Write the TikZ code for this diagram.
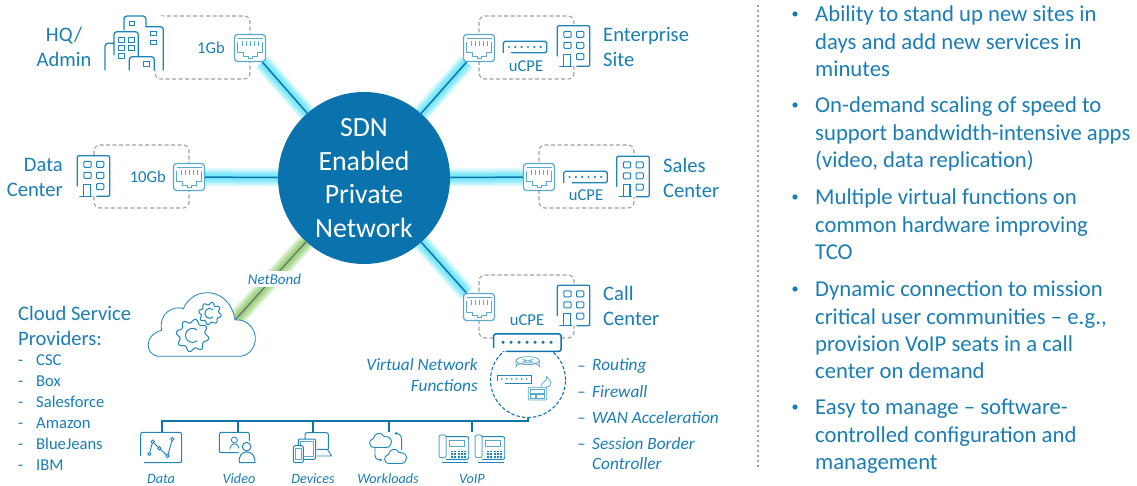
\documentclass[tikz,border=0pt]{standalone}
\usepackage{fontspec}
\setmainfont{Carlito}
\usetikzlibrary{backgrounds,arrows.meta}
\definecolor{tb}{HTML}{1A7DB4}
\definecolor{hubc}{HTML}{0A73AE}
\definecolor{lnc}{HTML}{0F74AC}
\definecolor{icn}{HTML}{1F84BA}
\definecolor{lic}{HTML}{5AA9D0}
\definecolor{gl}{HTML}{5FE3F7}
\definecolor{gr}{HTML}{8CCB6A}
\definecolor{dsh}{HTML}{A0A0A0}
\newcommand{\glowlink}[3]{%
  \foreach \w/\o in {18/.18,15/.22,12/.28,9/.35,6/.45}{\draw[#3,line width=\w pt,opacity=\o] (#1) -- (#2);}}
\newcommand{\gearshape}[3]{% cx, cy, radius
  \draw[icn,line width=1pt] plot[domain=0:360,samples=121,smooth]
   ({#1+(#3+#3*.13*sin(8*\x))*cos(\x)},{#2+(#3+#3*.13*sin(8*\x))*sin(\x)});}
\tikzset{
  lab/.style={text=tb,font=\fontsize{20.6}{25}\selectfont,align=left,inner sep=0pt},
  ilab/.style={text=tb,font=\fontsize{14.2}{18}\itshape\selectfont,inner sep=0pt},
  vlab/.style={text=tb,font=\fontsize{17.3}{21}\itshape\selectfont,inner sep=0pt},
  small/.style={text=tb,font=\fontsize{16.6}{16.6}\selectfont,inner sep=0pt},
  bul/.style={text=tb,font=\fontsize{22.7}{27.3}\selectfont,align=left,inner sep=0pt,anchor=north west},
  site/.style={draw=dsh,dashed,dash pattern=on 4pt off 2.5pt,line width=1.1pt,rounded corners=6pt},
  jack/.style={draw=lic,fill=white,line width=1.2pt,rounded corners=3pt,minimum width=31pt,minimum height=27pt,inner sep=0pt},
  ic/.style={draw=icn,line width=1.3pt,line cap=round},
  thin ic/.style={draw=lic,line width=.8pt},
  link/.style={draw=lnc,line width=1.5pt},
  tree/.style={draw=lnc,line width=1.3pt},
  jackin/.pic={\begin{scope}[scale=1/3]
    \draw[lic,line width=.9pt] (-37,-28)--(38,-28);
    \draw[lic,line width=1pt] (-37,-18)--(-37,15)--(-21,15)--(-21,25)--(-4,25)--(-4,32)--(6,32)--(6,25)--(21,25)--(21,15)--(38,15)--(38,-18);
    \foreach \x in {-24,-12,0,12,24}{\draw[lic,line width=.9pt] (\x,-20)--(\x,-7);}
  \end{scope}},
  build/.pic={\begin{scope}[scale=1/3]
    \fill[white] (-49,-61) rectangle (49,61);
    \draw[ic,rounded corners=2pt] (-49,30)--(-49,-61)--(49,-61)--(49,61)--(10,61);
    \draw[ic] (-41,61)--(-5,61);
    \draw[ic] (-29,61)--(-29,25)--(-9,25)--(-9,61);
    \foreach \x in {-29,9}{\foreach \y in {-44,-11}{\draw[ic,line width=1pt,rounded corners=1pt] (\x,\y) rectangle ++(22,18);}}
    \draw[ic,line width=1pt,rounded corners=1pt] (9,23) rectangle ++(22,18);
  \end{scope}},
  dev/.pic={\begin{scope}[scale=1/3]
    \draw[ic,rounded corners=1.5pt] (-65,17)--(-65,-17)--(65,-17)--(65,17)--(-40,17);
    \foreach \x in {-48,-29,-10,9,28,47}{\fill[icn] (\x,0) circle (3.6);}
  \end{scope}},
  scloud/.pic={\begin{scope}
    \draw[pic actions] (-6,9)..controls (-13,9) and (-13,1)..(-7.5,0)
      ..controls (-7,-6) and (1,-7)..(3,-2)
      ..controls (9,-3) and (13,3)..(9,7)
      ..controls (8,9) and (6,9)..(4,9)--cycle;
  \end{scope}},
  phone/.pic={\begin{scope}[scale=1/3]
    \draw[lic,line width=1pt,rounded corners=2pt] (-23,-40) rectangle (-2,28);
    \draw[icn,line width=.9pt,rounded corners=2pt] (-2,-35)--(66,-35)--(66,33)--(-2,33);
    \draw[lic,line width=1pt] (8,-22) rectangle (53,-5);
    \draw[icn,line width=.8pt] (-15,41)--(63,41);
    \foreach \y in {8,16,24}{\foreach \x in {14,24,34,44,52}{\fill[icn] (\x-1,\y-1) rectangle ++(6,5);}}
  \end{scope}}
}
\begin{document}
\begin{tikzpicture}[x=1pt,y=-1pt]
\useasboundingbox (0,0) rectangle (1137,486);
% hub & jacks
\node[circle,fill=hubc,minimum size=172pt,inner sep=0pt,text=white,align=center,font=\fontsize{27.8}{33.4}\selectfont] (hub) at (364,178) {SDN\\Enabled\\Private\\Network};
\node[jack] (jhq) at (250,48) {};
\node[jack] (jen) at (479,48) {};
\node[jack] (jdc) at (189,177) {};
\node[jack] (jsa) at (539,177) {};
\node[jack] (jca) at (479,307) {};
\foreach \n in {jhq,jen,jdc,jsa,jca}{\pic at (\n) {jackin};}
\coordinate (cl) at (235,320);
\begin{scope}[on background layer]
  \draw[site] (155,16) rectangle (250,79);
  \draw[site] (94,145) rectangle (189,208);
  \draw[site] (479,16) rectangle (574,79);
  \draw[site] (539,145) rectangle (634,208);
  \draw[site] (479,275) rectangle (574,338);
  \glowlink{hub}{jhq}{gl}
  \glowlink{hub}{jen}{gl}
  \glowlink{hub}{jdc}{gl}
  \glowlink{hub}{jsa}{gl}
  \glowlink{hub}{jca}{gl}
  \glowlink{hub}{cl}{gr}
  \draw[link] (hub)--(jhq);
  \draw[link] (hub)--(jen);
  \draw[link] (hub)--(jdc);
  \draw[link] (hub)--(jsa);
  \draw[link] (hub)--(jca);
  \draw[draw=gray!85!black,line width=1.2pt] (hub)--(cl);
\end{scope}
% HQ icon
\begin{scope}[scale=1/3]
  \fill[white] (372,48) rectangle (490,210);
  \draw[ic,rounded corners=3pt] (372,90)--(372,48)--(438,48)--(438,80);
  \draw[ic,line width=1pt] (388,65) rectangle (405,78);
  \draw[ic,rounded corners=3pt] (438,80)--(490,80)--(490,210);
  \draw[ic,line width=1pt] (453,95) rectangle (470,108);
  \draw[ic,line width=1pt] (453,122) rectangle (470,135);
  \fill[white] (342,95) rectangle (415,185);
  \draw[ic,rounded corners=3pt] (342,165)--(342,95)--(415,95)--(415,168);
  \foreach \x/\y in {355/112,385/112,355/137,385/137,355/162}{\draw[ic,line width=1pt] (\x,\y) rectangle ++(18,15);}
  \draw[ic,rounded corners=3pt] (315,210)--(315,130)--(342,130);
  \fill[white] (388,170) rectangle (463,210);
  \draw[ic,rounded corners=3pt] (388,210)--(388,170)--(463,170)--(463,210);
  \draw[ic,line width=1pt] (430,185) rectangle (448,200);
\end{scope}
\pic at (573.5,46) {build};
\pic at (633,176.5) {build};
\pic at (573.5,305.5) {build};
\pic at (93.5,176) {build};
\pic at (525,47) {dev};
\pic at (585.5,177) {dev};
% labels
\node[lab,align=center] (t1) at (64,46.5) {HQ/\\Admin};
\node[lab,align=right,anchor=east] (t2) at (63,177.5) {Data\\Center};
\node[lab,anchor=west] (t3) at (603,46.5) {Enterprise\\Site};
\node[lab,anchor=west] (t4) at (663,177.5) {Sales\\Center};
\node[lab,anchor=west] (t5) at (603,305.5) {Call\\Center};
\node[small,anchor=east] (g1) at (225,48) {1Gb};
\node[small,anchor=east] (g2) at (166,177) {10Gb};
\node[small] (u1) at (526,66) {uCPE};
\node[small] (u2) at (586,195) {uCPE};
\node[small] (u3) at (527,320) {uCPE};
% cloud
\node[fill=white,ilab,font=\fontsize{15}{18}\itshape\selectfont,inner xsep=4pt,inner ysep=3pt] (nb) at (274.5,279) {NetBond};
\begin{scope}[shift={(130,220)},scale=1/3]
  \draw[fill=white,draw=icn,line width=.8pt] (85,409) ..controls (45,405) and (40,345)..(95,331)
    ..controls (85,280) and (130,255)..(160,266)
    ..controls (190,195) and (300,200)..(315,300)
    ..controls (370,295) and (395,360)..(360,395)
    ..controls (350,405) and (340,409)..(325,409)--cycle;
\end{scope}
\gearshape{192.5}{335.5}{14.5}
\draw[icn,line width=1pt] (197,330) arc[start angle=-50,end angle=-310,radius=7];
\gearshape{210}{313.5}{10}
\draw[icn,line width=1pt] (213,309.5) arc[start angle=-50,end angle=-310,radius=5];
\node[lab,anchor=west] (csp) at (18,325.5) {Cloud Service\\Providers:};
\foreach \y/\t in {360/CSC,381/Box,402/Salesforce,423/Amazon,444/BlueJeans,465/IBM}{
  \node[small,anchor=west,yshift=-3pt] at (18,\y) {-};
  \node[small,anchor=west] at (36,\y) {\t};}
% VNF
\node[circle,draw=lnc,dashed,dash pattern=on 3.5pt off 2pt,line width=1.1pt,minimum size=75pt,inner sep=0pt] (vnf) at (528,380) {};
\node[fill=white,inner sep=0pt,minimum width=68pt,minimum height=18pt] (bigd) at (527,342) {};
\begin{scope}[shift={(350,270)},scale=1/3]
  \draw[draw=lnc,line width=1.5pt,rounded corners=2pt] (431,234)--(431,192)--(633,192)--(633,244)--(468,244);
  \foreach \x in {459,483,507,531,555,579,603}{\fill[lnc] (\x,217) circle (5);}
  % router
  \draw[thin ic] (533,272) ellipse (35 and 12);
  \draw[thin ic] (498,272)--(498,290) arc[start angle=180,end angle=360,x radius=35,y radius=12]--(568,272);
  \draw[thin ic] (518,268)--(530,272)--(518,276) (548,268)--(536,272)--(548,276);
  % small device
  \draw[thin ic,draw=icn] (443,332)--(443,315)--(545,315)--(545,340)--(465,340);
  \foreach \x in {455,470,485,500,515,530}{\fill[icn] (\x,327) circle (2.5);}
  % firewall
  \draw[thin ic] (588,352)..controls (610,345) and (605,335)..(590,320)..controls (592,335) and (575,335)..(572,350);
  \draw[thin ic,fill=white,rounded corners=1pt] (535,352) rectangle (590,390);
  \draw[thin ic] (542,359) rectangle (583,369) (542,374) rectangle (555,384) (560,374) rectangle (583,384);
\end{scope}
\node[vlab,align=right,anchor=east] at (478,365) {Virtual Network};
\node[vlab,align=right,anchor=east] at (478,386) {Functions};
\foreach \y/\t in {365/Routing,391/Firewall,417/WAN Acceleration,443/Session Border}{
  \node[vlab,anchor=west,yshift=-1pt] at (592,\y) {\t};
  \node[vlab,anchor=west,yshift=-3.5pt] at (577,\y) {–};}
\node[vlab,anchor=west] at (592,464) {Controller};
% tree
\coordinate (b0) at (162,421);
\foreach \n/\x in {d1/162,d2/238,d3/313,d4/389,d5/472}{\coordinate (\n) at (\x,432);}
\draw[tree] (vnf.south)--(528,421)--(b0)--(d1);
\foreach \n/\x in {d2/238,d3/313,d4/389,d5/472}{\draw[tree] (\x,421)--(\n);}
% data icon
\begin{scope}[shift={(120,380)},scale=1/3]
  \draw[thin ic,draw=icn,line width=1pt,rounded corners=2pt] (62,228)--(62,157)--(185,157)--(185,248)--(72,248);
  \draw[icn,line width=.9pt] (88,222)--(98,185)--(118,205)--(143,228)--(157,177);
  \foreach \p in {(88,222),(98,185),(118,205),(143,228),(157,177)}{\draw[icn,line width=.9pt,fill=white] \p circle (5);}
  % video
  \draw[thin ic,draw=icn,line width=1pt,rounded corners=2pt] (388,185)--(388,157)--(298,157)--(298,218)--(355,218);
  \draw[thin ic,draw=icn] (343,180) circle (9);
  \draw[thin ic,draw=icn] (330,208)..controls (330,186) and (356,186)..(356,205);
  \fill[white] (358,183) rectangle (405,248);
  \draw[icn,line width=1pt] (380,200) circle (13);
  \draw[icn,line width=1pt] (358,248)..controls (352,205) and (408,205)..(405,248)--cycle;
  % devices
  \draw[icn,line width=1pt,rounded corners=2pt] (555,177)--(555,158)--(625,158)--(625,208);
  \draw[icn,line width=.9pt] (590,228)--(635,228)--(622,208)--(590,208);
  \draw[icn,line width=1pt,fill=white,rounded corners=2pt] (535,177) rectangle (587,238);
  \draw[lic,line width=.8pt] (541,185) rectangle (581,228);
  \draw[icn,line width=1pt,fill=white,rounded corners=2pt] (520,197) rectangle (550,248);
  \draw[lic,line width=.8pt] (525,205) rectangle (545,238);
\end{scope}
% workloads
\begin{scope}[shift={(350,270)},scale=1/3]
  \draw[icn,line width=.9pt,-{Stealth[length=3pt,width=3pt]}] (155,540)--(155,510)..controls (155,495) and (145,490)..(133,490);
  \draw[icn,line width=.9pt,-{Stealth[length=3pt,width=3pt]}] (75,530)--(75,555)..controls (75,568) and (85,570)..(97,570);
\end{scope}
\pic[draw=icn,line width=.9pt] at (381,438.5) {scloud};
\pic[draw=icn,line width=.9pt] at (396,454.5) {scloud};
% phones
\pic at (446.7,448.3) {phone};
\pic at (482.7,448.3) {phone};
% bottom labels
\foreach \x/\t in {161/Data,239/Video,313/Devices,388/Workloads,472/VoIP}{\node[ilab] at (\x,479) {\t};}
% divider
\draw[dsh,line width=2pt,dash pattern=on 2pt off 3pt] (758,5)--(758,470);
% bullets
\foreach \y in {14,105,197,289,407}{\fill[tb] (795,\y) circle (2.6pt);}
\node[bul] (b1) at (815,6) {Ability to stand up new sites in\\days and add new services in\\minutes};
\node[bul] (b2) at (815,97) {On-demand scaling of speed to\\support bandwidth-intensive apps\\(video, data replication)};
\node[bul] (b3) at (815,189) {Multiple virtual functions on\\common hardware improving\\TCO};
\node[bul] (b4) at (815,281) {Dynamic connection to mission\\critical user communities – e.g.,\\provision VoIP seats in a call\\center on demand};
\node[bul] (b5) at (815,399) {Easy to manage – software-\\controlled configuration and\\management};
\end{tikzpicture}
\end{document}
